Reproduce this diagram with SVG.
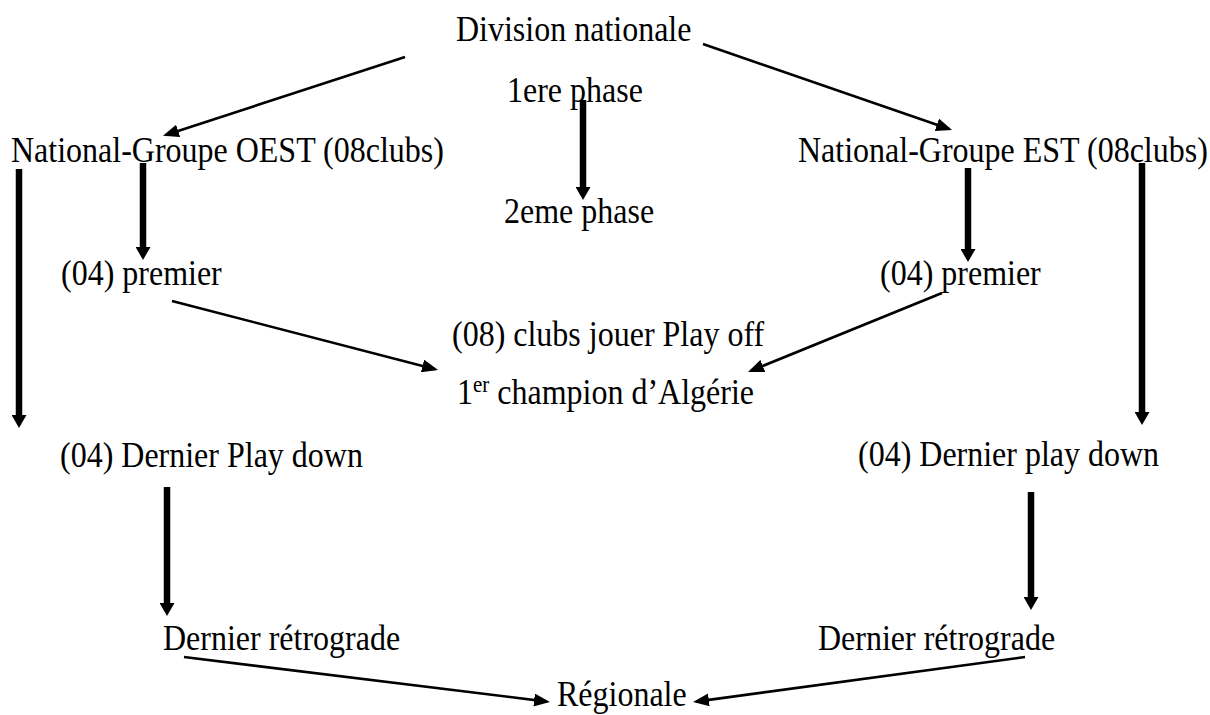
<svg xmlns="http://www.w3.org/2000/svg" width="1210" height="715" viewBox="0 0 1210 715">
  <style>
    text { font-family: "Liberation Serif", "Times New Roman", serif; font-size: 32px; fill: #000; }
    .thin { stroke: #000; stroke-width: 2.6; fill: none; marker-end: url(#headThin); }
    .thick { stroke: #000; stroke-width: 6.5; fill: none; marker-end: url(#headThick); }
  </style>
  <defs>
    <marker id="headThin" markerUnits="userSpaceOnUse" viewBox="0 0 16 13" refX="13" refY="6.5" markerWidth="16" markerHeight="13" orient="auto">
      <path d="M0,0 L16,6.5 L0,13 z" fill="#000"/>
    </marker>
    <marker id="headThick" markerUnits="userSpaceOnUse" viewBox="0 0 13 15" refX="3" refY="7.5" markerWidth="13" markerHeight="15" orient="auto">
      <path d="M0,0 L13,7.5 L0,15 z" fill="#000"/>
    </marker>
  </defs>

  <!-- connectors -->
  <g id="connectors">
    <!-- thin arrows (line ends 3px short of the head tip) -->
    <line class="thin" x1="405" y1="57" x2="165.8" y2="134.9"/>
    <line class="thin" x1="703" y1="44" x2="949.2" y2="129"/>
    <line class="thin" x1="172" y1="301" x2="435.1" y2="369.2"/>
    <line class="thin" x1="942" y1="293" x2="750.8" y2="370.8"/>
    <line class="thin" x1="184" y1="657" x2="547" y2="701.6"/>
    <line class="thin" x1="1025" y1="657" x2="696" y2="701.6"/>
    <!-- thick arrows (line ends 10px short of the head tip) -->
    <line class="thick" x1="583" y1="100" x2="583" y2="190"/>
    <line class="thick" x1="143" y1="163" x2="143" y2="250"/>
    <line class="thick" x1="19" y1="169" x2="19" y2="418"/>
    <line class="thick" x1="968" y1="168" x2="968" y2="252"/>
    <line class="thick" x1="1142" y1="163" x2="1142" y2="415"/>
    <line class="thick" x1="167" y1="487" x2="167" y2="606"/>
    <line class="thick" x1="1031" y1="492" x2="1031" y2="600"/>
  </g>

  <!-- labels, stretched slightly in height -->
  <g id="division-nationale"><text transform="translate(456,41) scale(1,1.1)">Division nationale</text></g>
  <g id="phase-1"><text transform="translate(507,102) scale(1,1.1)">1ere phase</text></g>
  <g id="groupe-oest"><text transform="translate(11,162) scale(1,1.1)">National-Groupe OEST (08clubs)</text></g>
  <g id="groupe-est"><text transform="translate(798,162) scale(1,1.1)">National-Groupe EST (08clubs)</text></g>
  <g id="phase-2"><text transform="translate(504,223) scale(1,1.1)">2eme phase</text></g>
  <g id="premier-oest"><text transform="translate(61,285) scale(1,1.1)">(04) premier</text></g>
  <g id="premier-est"><text transform="translate(880,285) scale(1,1.1)">(04) premier</text></g>
  <g id="play-off"><text transform="translate(452,346) scale(1,1.1)">(08) clubs jouer Play off</text></g>
  <g id="champion"><text transform="translate(457,404) scale(1,1.1)">1<tspan font-size="21" dy="-11">er</tspan><tspan dy="11"> champion d’Algérie</tspan></text></g>
  <g id="play-down-oest"><text transform="translate(60,467) scale(1,1.1)">(04) Dernier Play down</text></g>
  <g id="play-down-est"><text transform="translate(858,466) scale(1,1.1)">(04) Dernier play down</text></g>
  <g id="retrograde-oest"><text transform="translate(163,650) scale(1,1.1)">Dernier rétrograde</text></g>
  <g id="retrograde-est"><text transform="translate(818,650) scale(1,1.1)">Dernier rétrograde</text></g>
  <g id="regionale"><text transform="translate(557,706) scale(1,1.1)">Régionale</text></g>
</svg>
